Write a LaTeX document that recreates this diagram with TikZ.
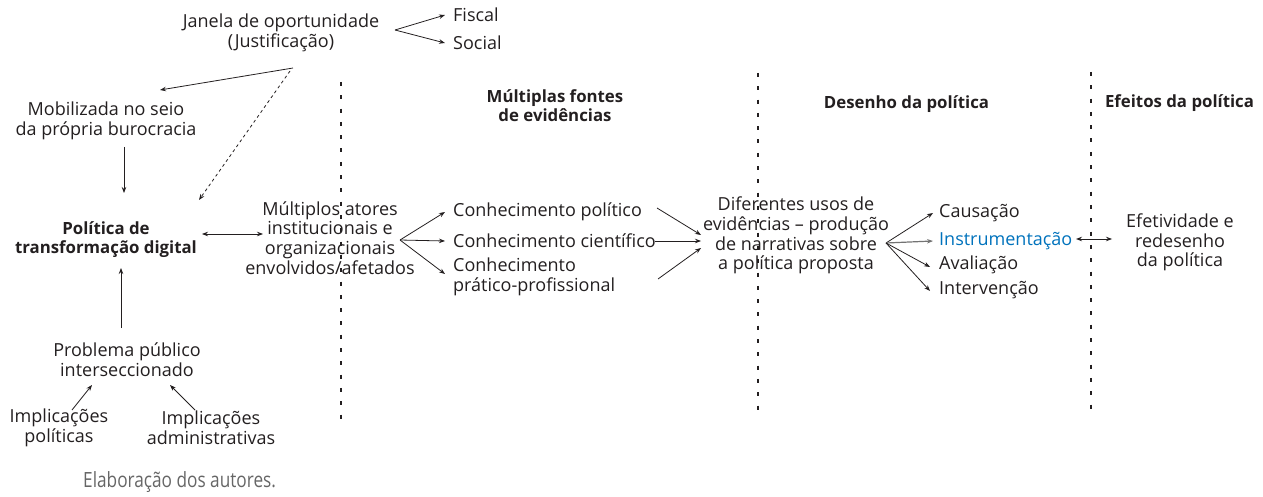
\documentclass[tikz,border=0pt]{standalone}
\usepackage{fontspec}
\setmainfont{Open Sans}
\newfontfamily\condfont[FakeStretch=0.82]{Open Sans}
\usetikzlibrary{arrows.meta,calc}
\definecolor{txtc}{RGB}{35,31,32}
\definecolor{bluec}{RGB}{0,114,188}
\begin{document}
\begin{tikzpicture}[x=1pt,y=-1pt,
  every node/.style={inner sep=0pt,text=txtc,font=\fontsize{18}{19.7}\selectfont,align=center},
  hdr/.style={font=\fontsize{16.8}{19}\selectfont\bfseries},
  lft/.style={anchor=west,align=left},
  arr/.style={draw=txtc,line width=0.8pt,-{Stealth[length=6pt,width=4.5pt]}},
  darr/.style={draw=txtc,line width=0.8pt,{Stealth[length=6pt,width=4.5pt]}-{Stealth[length=6pt,width=4.5pt]}},
  sep/.style={draw=txtc,line width=1.1pt,dash pattern=on 4pt off 9.3pt}]
\useasboundingbox (0,0) rectangle (1263,497);
% nodes
\node (janela) at (281,32.5) {Janela de oportunidade\\(Justificação)};
\node[lft] (fiscal) at (453,15) {Fiscal};
\node[lft] (social) at (453,43) {Social};
\node (mob) at (106,120.5) {Mobilizada no seio\\da própria burocracia};
\node[hdr] (pol) at (106,240) {Política de\\transformação digital};
\node (mult) at (330,238) {Múltiplos atores\\institucionais e\\organizacionais\\envolvidos/afetados};
\node[hdr] (fontes) at (555,106) {Múltiplas fontes\\de evidências};
\node[hdr] (desenho) at (906.5,104) {Desenho da política};
\node[hdr] (efeitos) at (1179.5,103) {Efeitos da política};
\node[lft] (cpol) at (453,212) {Conhecimento político};
\node[lft] (ccie) at (453,241) {Conhecimento científico};
\node[lft] (cpra) at (453,277) {Conhecimento\\prático-profissional};
\node (dif) at (796,235.5) {Diferentes usos de\\evidências – produção\\de narrativas sobre\\a política proposta};
\node[lft] (caus) at (939,213) {Causação};
\node[lft,text=bluec] (instr) at (939,241) {Instrumentação};
\node[lft] (aval) at (939,265) {Avaliação};
\node[lft] (interv) at (939,290) {Intervenção};
\node (efet) at (1180,242.5) {Efetividade e\\redesenho\\da política};
\node (prob) at (127,359.5) {Problema público\\interseccionado};
\node (implp) at (59,428) {Implicações\\políticas};
\node (impla) at (211,428) {Implicações\\administrativas};
\node[lft,text=black!60,font=\condfont\fontsize{21}{22}\selectfont] (elab) at (83,482) {Elaboração dos autores.};
% separators
\draw[sep] ([shift={(11,-156)}]mult.center) -- ([shift={(11,182)}]mult.center);
\draw[sep] ([shift={(-38,-162.5)}]dif.center) -- ([shift={(-38,176.5)}]dif.center);
\draw[sep] ([shift={(-89,-170.5)}]efet.center) -- ([shift={(-89,167.5)}]efet.center);
% connectors
\draw[arr] ([shift={(114,-2.5)}]janela.center) -- ([shift={(-8,0)}]fiscal.west);
\draw[arr] ([shift={(114,-2.5)}]janela.center) -- ([shift={(-8,0)}]social.west);
\draw[arr] ([shift={(12,35.5)}]janela.center) -- ([shift={(54,-30.5)}]mob.center);
\draw[arr,dashed] ([shift={(9,38.5)}]janela.center) -- ([shift={(93,-40)}]pol.center);
\draw[arr] ([shift={(18,26.5)}]mob.center) -- ([shift={(18,-47)}]pol.center);
\draw[darr] ([shift={(96,-6)}]pol.center) -- ([shift={(-67,-4)}]mult.center);
\draw[arr] ([shift={(70,2)}]mult.center) -- ([shift={(-8,0)}]cpol.west);
\draw[arr] ([shift={(70,2)}]mult.center) -- ([shift={(-8,0)}]ccie.west);
\draw[arr] ([shift={(70,2)}]mult.center) -- ([shift={(-8,-3)}]cpra.west);
\draw[arr] ([shift={(204,-4)}]cpol.west) -- ([shift={(-95,-0.5)}]dif.center);
\draw[arr] ([shift={(202,0)}]ccie.west) -- ([shift={(-95,5.5)}]dif.center);
\draw[arr] ([shift={(205,2)}]cpra.west) -- ([shift={(-95,12.5)}]dif.center);
\draw[arr] ([shift={(90,7.5)}]dif.center) -- ([shift={(-6,0)}]caus.west);
\draw[arr,draw=black!55,line width=1.2pt] ([shift={(90,7.5)}]dif.center) -- ([shift={(-6,0)}]instr.west);
\draw[arr] ([shift={(90,7.5)}]dif.center) -- ([shift={(-9,2)}]aval.west);
\draw[arr] ([shift={(90,7.5)}]dif.center) -- ([shift={(-9,1)}]interv.west);
\draw[darr] ([shift={(137,-2)}]instr.west) -- ([shift={(-68,-3.5)}]efet.center);
\draw[arr] ([shift={(-6,-31.5)}]prob.center) -- ([shift={(15,28)}]pol.center);
\draw[arr] ([shift={(13,-18)}]implp.center) -- ([shift={(-35,25.5)}]prob.center);
\draw[arr] ([shift={(-16,-18)}]impla.center) -- ([shift={(43,25.5)}]prob.center);
\end{tikzpicture}
\end{document}
